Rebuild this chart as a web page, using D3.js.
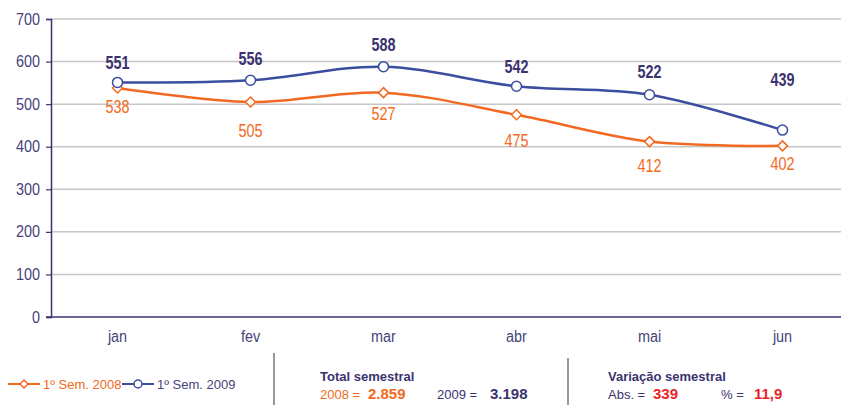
<!DOCTYPE html>
<html>
<head>
<meta charset="utf-8">
<script src="https://cdn.jsdelivr.net/npm/d3@7"></script>
<style>
  body { margin: 0; background: #fff; }
  svg { display: block; font-family: "Liberation Sans", Arial, sans-serif; }
</style>
</head>
<body>
<svg id="chart" width="841" height="405"></svg>
<script>
const months = ["jan", "fev", "mar", "abr", "mai", "jun"]
const sem2008 = [538, 505, 527, 475, 412, 402]
const sem2009 = [551, 556, 588, 542, 522, 439]
const yTicks = [0, 100, 200, 300, 400, 500, 600, 700]
const legendNames = ["1º Sem. 2008", "1º Sem. 2009"]
const totals = { y2008: "2.859", y2009: "3.198" }
const variation = { abs: "339", pct: "11,9" }

// label offsets from the point (px), hand placed like the original
const off2008 = [19, 29, 21, 26, 24, 18]
const off2009 = [-20, -22, -22, -20, -23, -50]

const orange = "#f26a22"
const blue = "#3a4d9f"
const navy = "#3a336f"
const red = "#e8242a"

const svg = d3.select("#chart")

// squeeze text a bit, the original uses a condensed face
function condense (sel, k) {
    sel.each(function () {
        const w = this.getComputedTextLength()
        d3.select(this).attr("textLength", w * k).attr("lengthAdjust", "spacingAndGlyphs")
    })
}

const x = d3.scaleBand().domain(months).range([51, 849])
const y = d3.scaleLinear().domain([0, 700]).range([317, 19])

// gridlines
svg.append("g")
    .selectAll("line")
    .data(yTicks.slice(1))
    .enter().append("line")
    .attr("x1", 51).attr("x2", 841)
    .attr("y1", d => y(d)).attr("y2", d => y(d))
    .attr("stroke", "#c8c8c8").attr("stroke-width", 1.5)

// y axis
const axisY = svg.append("g")
    .attr("transform", "translate(51,0)")
    .call(d3.axisLeft(y).tickValues(yTicks).tickSize(5).tickPadding(6))
axisY.select(".domain").attr("stroke", navy).attr("stroke-width", 1.5)
axisY.selectAll(".tick line").attr("stroke", navy).attr("stroke-width", 1.2)
axisY.selectAll(".tick text").attr("fill", "#46437a").style("font-size", "16px").call(condense, 0.9)

// x axis
const axisX = svg.append("g")
    .attr("transform", "translate(0,317)")
    .call(d3.axisBottom(x).tickSize(0).tickPadding(14))
axisX.select(".domain").attr("d", "M46,0H841").attr("stroke", navy).attr("stroke-width", 1.5)
axisX.selectAll(".tick text").attr("fill", "#46437a").style("font-size", "16px").call(condense, 0.9)

const line = d3.line()
    .x((d, i) => x(months[i]) + x.bandwidth() / 2)
    .y(d => y(d))
    .curve(d3.curveCatmullRom.alpha(0.5))

const series = [
    {name: legendNames[0], values: sem2008, offs: off2008, color: orange, marker: "diamond"},
    {name: legendNames[1], values: sem2009, offs: off2009, color: blue, marker: "circle"}
]

const diamond = "M0,-5L5,0L0,5L-5,0Z"

series.forEach(s => {
    svg.append("path")
        .datum(s.values)
        .attr("d", line)
        .attr("fill", "none")
        .attr("stroke", s.color)
        .attr("stroke-width", 2.5)

    const pts = svg.append("g").selectAll("g")
        .data(s.values)
        .enter().append("g")
        .attr("transform", (d, i) => "translate(" + (x(months[i]) + x.bandwidth() / 2) + "," + y(d) + ")")

    if (s.marker === "circle") {
        pts.append("circle").attr("r", 5)
            .attr("fill", "#fff").attr("stroke", s.color).attr("stroke-width", 1.5)
    } else {
        pts.append("path").attr("d", diamond)
            .attr("fill", "#fff").attr("stroke", s.color).attr("stroke-width", 1.5)
    }

    pts.append("text")
        .attr("y", (d, i) => s.offs[i])
        .attr("dy", "0.35em")
        .attr("text-anchor", "middle")
        .attr("fill", s.marker === "circle" ? navy : orange)
        .style("font-size", "18px")
        .style("font-weight", s.marker === "circle" ? "bold" : "normal")
        .text(d => d)
        .call(condense, 0.8)
})

// footer separators
svg.append("line").attr("x1", 274).attr("x2", 274).attr("y1", 353).attr("y2", 405)
    .attr("stroke", "#777").attr("stroke-width", 1.5)
svg.append("line").attr("x1", 568).attr("x2", 568).attr("y1", 358).attr("y2", 405)
    .attr("stroke", "#777").attr("stroke-width", 1.5)

// legend
const legend = svg.append("g").style("font-size", "13px")
const leg = [
    {x: 8, color: orange, marker: "diamond", text: legendNames[0]},
    {x: 122, color: blue, marker: "circle", text: legendNames[1]}
]
leg.forEach(l => {
    legend.append("line").attr("x1", l.x).attr("x2", l.x + 32).attr("y1", 384).attr("y2", 384)
        .attr("stroke", l.color).attr("stroke-width", 2)
    if (l.marker === "circle") {
        legend.append("circle").attr("cx", l.x + 16).attr("cy", 384).attr("r", 4)
            .attr("fill", "#fff").attr("stroke", l.color).attr("stroke-width", 1.5)
    } else {
        legend.append("path").attr("d", "M0,-4L4,0L0,4L-4,0Z")
            .attr("transform", "translate(" + (l.x + 16) + ",384)")
            .attr("fill", "#fff").attr("stroke", l.color).attr("stroke-width", 1.5)
    }
    legend.append("text").attr("x", l.x + 35).attr("y", 389)
        .attr("fill", l.color === orange ? orange : "#46437a").text(l.text)
})

// totals
const foot = svg.append("g").style("font-size", "13px")
foot.append("text").attr("x", 320).attr("y", 381).attr("fill", navy).style("font-weight", "bold").text("Total semestral")
foot.append("text").attr("x", 320).attr("y", 399).attr("fill", orange).text("2008  =")
foot.append("text").attr("x", 368).attr("y", 399).attr("fill", orange).style("font-weight", "bold").style("font-size", "15px").text(totals.y2008)
foot.append("text").attr("x", 437).attr("y", 399).attr("fill", navy).text("2009  =")
foot.append("text").attr("x", 490).attr("y", 399).attr("fill", navy).style("font-weight", "bold").style("font-size", "15px").text(totals.y2009)

foot.append("text").attr("x", 608).attr("y", 381).attr("fill", navy).style("font-weight", "bold").text("Variação semestral")
foot.append("text").attr("x", 608).attr("y", 399).attr("fill", navy).text("Abs.  =")
foot.append("text").attr("x", 653).attr("y", 399).attr("fill", red).style("font-weight", "bold").style("font-size", "15px").text(variation.abs)
foot.append("text").attr("x", 721).attr("y", 399).attr("fill", navy).text("%   =")
foot.append("text").attr("x", 754).attr("y", 399).attr("fill", red).style("font-weight", "bold").style("font-size", "15px").text(variation.pct)
</script>
</body>
</html>
